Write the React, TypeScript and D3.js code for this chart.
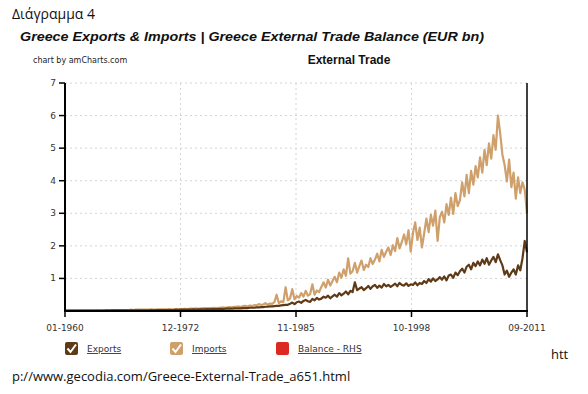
import * as d3 from "d3";

// quarterly values, EUR bn, mid-quarter from 1960 to Q3 2011
const imports: number[] = [
  0.01, 0.01, 0.02, 0.01, 0.02, 0.01, 0.02, 0.02, 0.02, 0.02, 0.02, 0.02,
  0.02, 0.02, 0.03, 0.02, 0.02, 0.03, 0.02, 0.03, 0.03, 0.03, 0.03, 0.03,
  0.03, 0.03, 0.03, 0.03, 0.03, 0.04, 0.03, 0.04, 0.04, 0.04, 0.04, 0.04,
  0.04, 0.04, 0.05, 0.04, 0.04, 0.05, 0.05, 0.05, 0.05, 0.05, 0.06, 0.05,
  0.05, 0.06, 0.06, 0.06, 0.06, 0.07, 0.06, 0.07, 0.07, 0.07, 0.08, 0.07,
  0.08, 0.08, 0.09, 0.08, 0.09, 0.09, 0.10, 0.09, 0.10, 0.10, 0.11, 0.10,
  0.11, 0.12, 0.11, 0.13, 0.13, 0.14, 0.12, 0.15, 0.16, 0.14, 0.17, 0.15,
  0.18, 0.17, 0.21, 0.19, 0.20, 0.24, 0.19, 0.23, 0.22, 0.27, 0.50, 0.24,
  0.30, 0.27, 0.73, 0.33, 0.38, 0.67, 0.36, 0.46, 0.41, 0.55, 0.44, 0.62,
  0.47, 0.52, 0.82, 0.50, 0.63, 0.58, 0.74, 0.88, 0.72, 0.96, 0.78, 0.92,
  1.05, 0.88, 1.18, 1.02, 1.28, 1.08, 1.62, 1.15, 1.22, 1.48, 1.18, 1.38,
  1.55, 1.26, 1.42, 1.35, 1.62, 1.44, 1.58, 1.76, 1.52, 1.88, 1.66, 1.82,
  1.95, 1.72, 2.02, 1.84, 2.24, 1.92, 2.12, 2.35, 2.05, 2.48, 1.82, 2.40,
  2.72, 2.18, 2.56, 1.95, 2.38, 2.84, 2.42, 2.95, 2.62, 3.08, 2.15, 2.88,
  3.05, 2.72, 3.28, 2.95, 3.48, 2.98, 3.62, 3.22, 3.40, 3.95, 3.52, 4.18,
  3.62, 4.30, 3.88, 4.45, 4.10, 4.72, 4.25, 4.95, 4.48, 5.15, 4.68, 5.40,
  4.95, 6.00, 5.45, 4.80, 4.48, 3.98, 4.65, 3.80, 4.25, 3.45, 4.10, 3.62,
  3.95, 3.72, 3.00,
];

const exports: number[] = [
  0.01, 0.01, 0.01, 0.01, 0.01, 0.01, 0.01, 0.01, 0.01, 0.01, 0.01, 0.01,
  0.01, 0.01, 0.01, 0.01, 0.01, 0.01, 0.02, 0.01, 0.02, 0.02, 0.02, 0.02,
  0.02, 0.02, 0.02, 0.02, 0.02, 0.02, 0.02, 0.02, 0.02, 0.02, 0.02, 0.02,
  0.02, 0.02, 0.03, 0.02, 0.03, 0.03, 0.03, 0.03, 0.03, 0.03, 0.03, 0.03,
  0.03, 0.04, 0.03, 0.04, 0.04, 0.04, 0.04, 0.04, 0.04, 0.05, 0.04, 0.05,
  0.05, 0.05, 0.05, 0.06, 0.05, 0.06, 0.06, 0.06, 0.06, 0.07, 0.06, 0.07,
  0.07, 0.07, 0.07, 0.08, 0.08, 0.08, 0.08, 0.09, 0.09, 0.09, 0.10, 0.10,
  0.10, 0.11, 0.11, 0.12, 0.12, 0.13, 0.13, 0.14, 0.14, 0.15, 0.16, 0.16,
  0.17, 0.18, 0.19, 0.19, 0.22, 0.26, 0.21, 0.27, 0.29, 0.25, 0.31, 0.34,
  0.30, 0.28, 0.37, 0.33, 0.40, 0.35, 0.38, 0.44, 0.41, 0.47, 0.39, 0.45,
  0.50, 0.44, 0.55, 0.48, 0.53, 0.60, 0.51, 0.62, 0.58, 0.88, 0.64, 0.69,
  0.73, 0.64, 0.70, 0.77, 0.68, 0.76, 0.80, 0.71, 0.78, 0.72, 0.83, 0.76,
  0.80, 0.74, 0.79, 0.84, 0.76, 0.86, 0.80, 0.78, 0.85, 0.77, 0.82, 0.80,
  0.88, 0.79, 0.86, 0.83, 0.92, 0.86, 0.98, 0.90, 1.00, 0.92, 0.97, 1.04,
  0.96, 1.06, 0.94, 1.09, 1.12, 1.02, 1.18, 1.10, 1.22, 1.30, 1.18, 1.36,
  1.42, 1.28, 1.48, 1.38, 1.52, 1.40, 1.58, 1.45, 1.62, 1.42, 1.55, 1.66,
  1.50, 1.74, 1.56, 1.40, 1.12, 1.24, 1.05, 1.18, 1.28, 1.12, 1.40, 1.25,
  1.62, 2.15, 1.80,
];

const yTicks = [1, 2, 3, 4, 5, 6, 7];
const xTickLabels = ["01-1960", "12-1972", "11-1985", "10-1998", "09-2011"];
const legendItems = [
  { name: "Exports", color: "#5e3a17", check: true },
  { name: "Imports", color: "#cfa06b", check: true },
  { name: "Balance - RHS", color: "#dc2a22", check: false },
];

const W = 588;
const H = 394;
const plot = { left: 65, right: 527, top: 83, bottom: 311 };
const parseTick = d3.timeParse("%m-%Y");
const start = new Date(1960, 0, 1);
const end = new Date(2011, 8, 1);

export default function App() {
  const x = d3.scaleTime().domain([start, end]).range([plot.left, plot.right]);
  const y = d3.scaleLinear().domain([0, 7]).range([plot.bottom, plot.top]);
  const dateAt = (i: number) => d3.timeMonth.offset(start, i === 0 ? 0 : i * 3 + 2);

  const line = d3
    .line<number>()
    .x((_, i) => x(dateAt(i)))
    .y((d) => y(d));

  const font = "'DejaVu Sans', Verdana, sans-serif";
  const xTicks = xTickLabels.map((l) => ({ label: l, date: parseTick(l)! }));

  return (
    <svg
      width={W}
      height={H}
      style={{ position: "absolute", left: 0, top: 0, background: "#fff" }}
    >
      <text x={12} y={19} fontFamily="'Open Sans', sans-serif" fontSize={14} fill="#111">
        Διάγραμμα 4
      </text>
      <text
        x={20}
        y={41}
        fontFamily="'Liberation Sans', Arial, sans-serif"
        fontSize={13}
        fontWeight="bold"
        fontStyle="italic"
        fill="#111"
        textLength={464}
        lengthAdjust="spacingAndGlyphs"
      >
        Greece Exports &amp; Imports | Greece External Trade Balance (EUR bn)
      </text>
      <text x={33} y={63} fontFamily={font} fontSize={8} fill="#222">
        chart by amCharts.com
      </text>
      <text
        x={349}
        y={64}
        textAnchor="middle"
        fontFamily="'Liberation Sans', Arial, sans-serif"
        fontSize={12}
        fontWeight="bold"
        fill="#111"
      >
        External Trade
      </text>

      {/* grid */}
      {yTicks.map((t) => (
        <line
          key={"gy" + t}
          x1={plot.left}
          x2={plot.right}
          y1={y(t)}
          y2={y(t)}
          stroke="#d4d4d4"
          strokeDasharray="2,3"
        />
      ))}
      {xTicks.slice(1, -1).map((t) => (
        <line
          key={"gx" + t.label}
          x1={x(t.date)}
          x2={x(t.date)}
          y1={plot.top}
          y2={plot.bottom}
          stroke="#d4d4d4"
          strokeDasharray="2,3"
        />
      ))}

      {/* series */}
      <path d={line(imports) ?? ""} fill="none" stroke="#cfa06b" strokeWidth={2.2} strokeLinejoin="round" />
      <path d={line(exports) ?? ""} fill="none" stroke="#5e3a17" strokeWidth={2.2} strokeLinejoin="round" />

      {/* axes */}
      <line x1={plot.left} x2={plot.left} y1={plot.top} y2={plot.bottom + 1} stroke="#000" strokeWidth={2} />
      <line x1={plot.left - 1} x2={plot.right + 1} y1={plot.bottom} y2={plot.bottom} stroke="#000" strokeWidth={2} />
      <line x1={plot.right} x2={plot.right} y1={plot.top} y2={plot.bottom} stroke="#000" strokeWidth={1.5} />
      {yTicks.map((t) => (
        <g key={"ty" + t}>
          <line x1={plot.left - 6} x2={plot.left} y1={y(t)} y2={y(t)} stroke="#000" strokeWidth={1.5} />
          <text
            x={plot.left - 9}
            y={y(t) + 3}
            textAnchor="end"
            fontFamily={font}
            fontSize={9}
            fill="#333"
          >
            {t}
          </text>
        </g>
      ))}
      {xTicks.map((t) => (
        <g key={"tx" + t.label}>
          <line x1={x(t.date)} x2={x(t.date)} y1={plot.bottom} y2={plot.bottom + 6} stroke="#000" strokeWidth={1.5} />
          <text
            x={x(t.date)}
            y={plot.bottom + 20}
            textAnchor="middle"
            fontFamily={font}
            fontSize={9}
            fill="#333"
          >
            {t.label}
          </text>
        </g>
      ))}

      {/* legend */}
      {legendItems.map((it, i) => {
        const lx = [65, 170, 276][i];
        const ly = 342;
        return (
          <g key={it.name} transform={`translate(${lx},${ly})`}>
            <rect width={13} height={13} rx={2} fill={it.color} />
            {it.check && (
              <path d="M2.5,6.5 L5.5,10 L11,2.5" fill="none" stroke="#fff" strokeWidth={2} />
            )}
            <text
              x={22}
              y={10}
              fontFamily={font}
              fontSize={9}
              fill="#333"
              textDecoration="underline"
            >
              {it.name}
            </text>
          </g>
        );
      })}

      <text x={551} y={359} fontFamily="'Open Sans', sans-serif" fontSize={13} fill="#111">
        htt
      </text>
      <text x={12} y={381} fontFamily="'Open Sans', sans-serif" fontSize={13} fill="#111">
        p://www.gecodia.com/Greece-External-Trade_a651.html
      </text>
    </svg>
  );
}
